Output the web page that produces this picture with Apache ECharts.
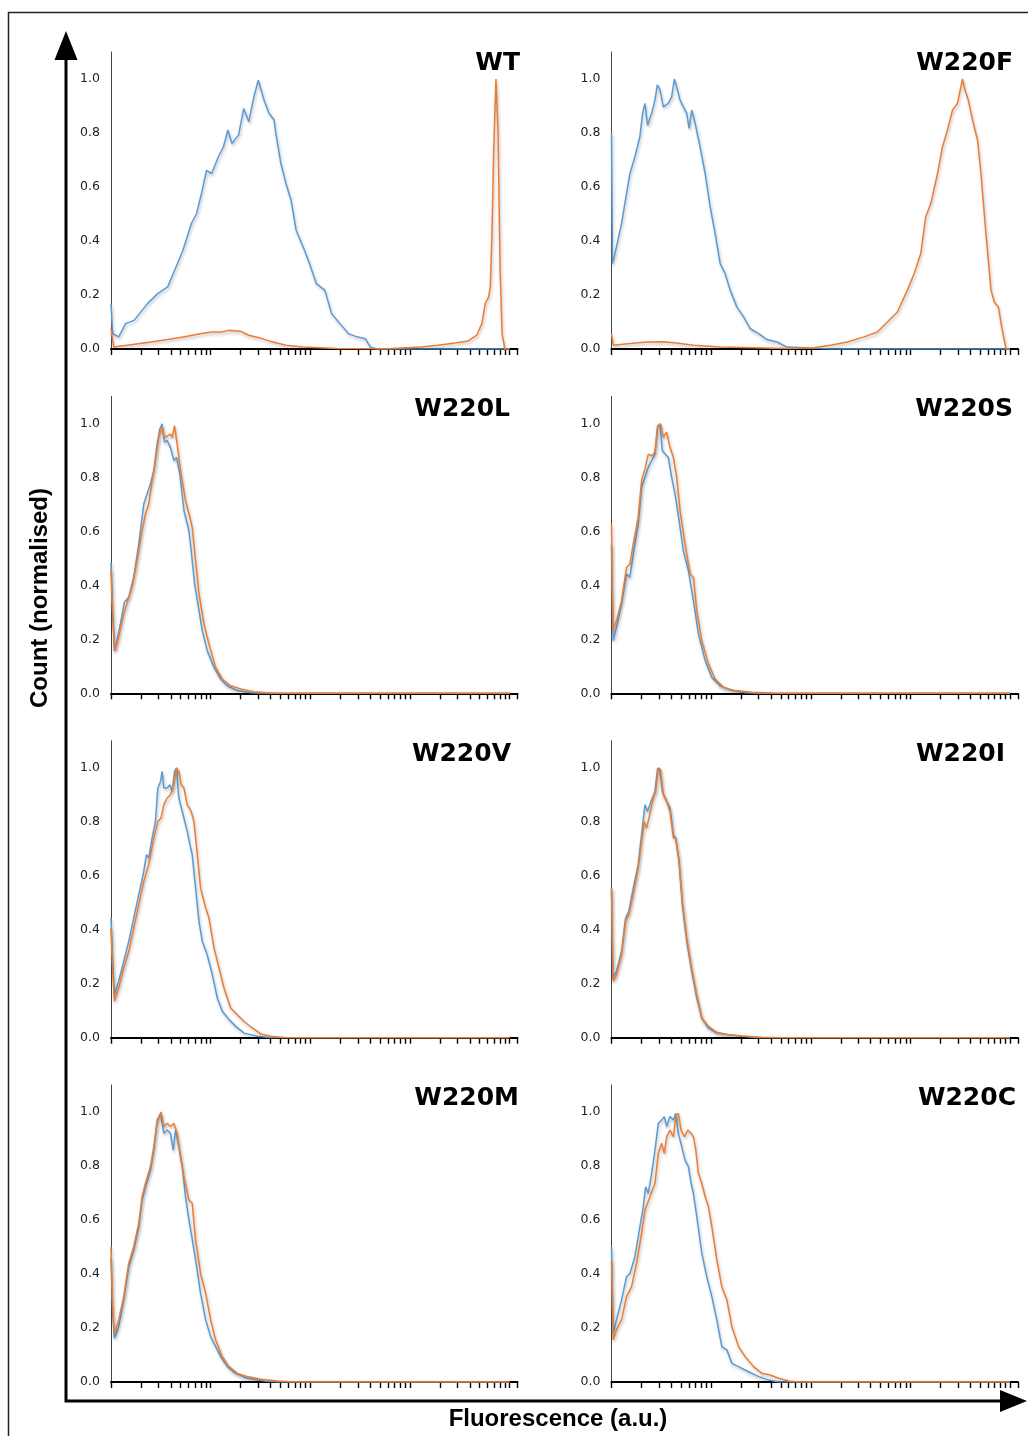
<!DOCTYPE html>
<html><head><meta charset="utf-8">
<script src="https://cdn.jsdelivr.net/npm/echarts@6/dist/echarts.min.js"></script>
<style>html,body{margin:0;padding:0;background:#fff}#c{width:1028px;height:1436px}</style>
</head><body><div id="c"></div>
<script>
// x values are in decades: log10(fluorescence, a.u.)
const panelNames = ['WT','W220F','W220L','W220S','W220V','W220I','W220M','W220C'];
const yTickLabels = ['0.0','0.2','0.4','0.6','0.8','1.0'];

const wtBlue = [[0,0.168],[0.017,0.057],[0.078,0.045],[0.146,0.094],[0.231,0.106],[0.366,0.168],[0.468,0.205],[0.569,0.23],[0.637,0.29],[0.722,0.366],[0.807,0.465],[0.858,0.5],[0.908,0.576],[0.959,0.662],[1.01,0.65],[1.078,0.712],[1.129,0.749],[1.173,0.811],[1.214,0.761],[1.281,0.793],[1.332,0.891],[1.383,0.842],[1.434,0.934],[1.478,0.996],[1.502,0.965],[1.536,0.922],[1.586,0.873],[1.637,0.848],[1.654,0.8],[1.705,0.687],[1.756,0.613],[1.807,0.551],[1.858,0.44],[1.942,0.366],[1.993,0.316],[2.061,0.242],[2.146,0.218],[2.214,0.131],[2.298,0.094],[2.383,0.057],[2.468,0.045],[2.553,0.038],[2.603,0.007],[2.671,0],[4.0,0]];
const wtOrange = [[0,0.075],[0.027,0.007],[0.163,0.014],[0.4,0.026],[0.569,0.035],[0.739,0.045],[0.908,0.057],[1.01,0.063],[1.112,0.063],[1.18,0.069],[1.298,0.066],[1.383,0.051],[1.485,0.042],[1.586,0.03],[1.756,0.014],[1.925,0.007],[2.264,0.002],[2.773,0.001],[3.112,0.007],[3.281,0.014],[3.451,0.022],[3.586,0.03],[3.671,0.051],[3.722,0.094],[3.756,0.168],[3.79,0.193],[3.807,0.23],[3.824,0.428],[3.841,0.737],[3.864,1.0],[3.885,0.8],[3.905,0.304],[3.925,0.057],[3.953,0],[4.0,0]];

const w220fBlue = [[0,0.8],[0.01,0.316],[0.05,0.378],[0.101,0.465],[0.151,0.576],[0.185,0.65],[0.235,0.712],[0.285,0.786],[0.312,0.873],[0.336,0.91],[0.362,0.829],[0.403,0.873],[0.436,0.922],[0.46,0.978],[0.487,0.96],[0.52,0.897],[0.57,0.91],[0.604,0.934],[0.631,1.0],[0.654,0.971],[0.688,0.922],[0.721,0.897],[0.755,0.873],[0.779,0.817],[0.805,0.885],[0.839,0.836],[0.889,0.749],[0.94,0.65],[0.99,0.527],[1.04,0.428],[1.091,0.316],[1.141,0.279],[1.191,0.218],[1.258,0.156],[1.326,0.119],[1.393,0.075],[1.477,0.057],[1.56,0.035],[1.661,0.026],[1.762,0.007],[1.93,0.005],[2.097,0.002],[2.198,0],[4.0,0]];
const w220fOrange = [[0,0.057],[0.017,0.014],[0.185,0.02],[0.352,0.026],[0.52,0.027],[0.654,0.022],[0.822,0.014],[1.091,0.007],[1.426,0.005],[1.762,0.002],[2.03,0.005],[2.198,0.014],[2.366,0.026],[2.534,0.045],[2.668,0.063],[2.768,0.1],[2.869,0.137],[2.97,0.218],[3.037,0.279],[3.104,0.354],[3.154,0.49],[3.205,0.539],[3.272,0.65],[3.322,0.749],[3.372,0.811],[3.423,0.885],[3.473,0.91],[3.5,0.96],[3.523,1.0],[3.547,0.96],[3.581,0.922],[3.624,0.848],[3.648,0.811],[3.674,0.774],[3.708,0.65],[3.758,0.428],[3.809,0.218],[3.842,0.174],[3.883,0.156],[3.916,0.082],[3.96,0],[4.0,0]];

const w220lBlue = [[0,0.485],[0.017,0.306],[0.034,0.158],[0.06,0.195],[0.094,0.257],[0.134,0.337],[0.178,0.356],[0.228,0.43],[0.279,0.553],[0.329,0.701],[0.362,0.738],[0.396,0.775],[0.43,0.825],[0.463,0.923],[0.49,0.979],[0.513,0.998],[0.537,0.93],[0.564,0.936],[0.597,0.911],[0.631,0.862],[0.658,0.874],[0.691,0.812],[0.732,0.677],[0.782,0.602],[0.805,0.528],[0.839,0.405],[0.872,0.331],[0.916,0.232],[0.966,0.158],[1.034,0.096],[1.101,0.053],[1.168,0.028],[1.268,0.01],[1.403,0.002],[1.537,0],[4.0,0]];
const w220lOrange = [[0,0.46],[0.017,0.281],[0.037,0.158],[0.077,0.207],[0.128,0.294],[0.168,0.343],[0.211,0.393],[0.262,0.491],[0.312,0.602],[0.346,0.664],[0.379,0.701],[0.413,0.788],[0.446,0.862],[0.48,0.948],[0.513,0.985],[0.537,0.948],[0.57,0.954],[0.597,0.96],[0.614,0.948],[0.638,0.991],[0.664,0.923],[0.698,0.825],[0.748,0.714],[0.792,0.652],[0.815,0.615],[0.849,0.491],[0.883,0.368],[0.933,0.257],[0.983,0.183],[1.05,0.096],[1.117,0.053],[1.201,0.028],[1.302,0.016],[1.436,0.006],[1.604,0.001],[1.75,0],[4.0,0]];

const w220sBlue = [[0,0.55],[0.017,0.195],[0.05,0.244],[0.101,0.331],[0.151,0.442],[0.185,0.43],[0.218,0.516],[0.268,0.627],[0.302,0.763],[0.336,0.8],[0.369,0.837],[0.403,0.862],[0.436,0.886],[0.463,0.985],[0.487,0.998],[0.51,0.899],[0.537,0.886],[0.57,0.874],[0.604,0.8],[0.638,0.738],[0.678,0.64],[0.721,0.528],[0.772,0.454],[0.822,0.343],[0.872,0.22],[0.94,0.121],[1.007,0.059],[1.091,0.028],[1.208,0.01],[1.342,0.002],[1.477,0],[4.0,0]];
const w220sOrange = [[0,0.627],[0.013,0.232],[0.05,0.269],[0.101,0.343],[0.151,0.467],[0.185,0.479],[0.218,0.553],[0.268,0.652],[0.302,0.788],[0.336,0.831],[0.369,0.886],[0.403,0.88],[0.436,0.893],[0.463,0.991],[0.493,0.998],[0.52,0.948],[0.554,0.967],[0.587,0.911],[0.621,0.874],[0.654,0.8],[0.688,0.677],[0.738,0.553],[0.789,0.442],[0.822,0.43],[0.856,0.306],[0.906,0.195],[0.973,0.109],[1.04,0.053],[1.124,0.022],[1.242,0.01],[1.409,0.004],[1.611,0.001],[1.8,0],[4.0,0]];

const w220vBlue = [[0,0.443],[0.017,0.283],[0.034,0.159],[0.077,0.209],[0.128,0.283],[0.178,0.357],[0.228,0.443],[0.279,0.53],[0.329,0.616],[0.356,0.678],[0.379,0.665],[0.413,0.74],[0.446,0.801],[0.47,0.925],[0.497,0.949],[0.513,0.986],[0.53,0.925],[0.564,0.925],[0.591,0.937],[0.614,0.912],[0.638,0.986],[0.658,0.999],[0.681,0.888],[0.715,0.838],[0.765,0.764],[0.792,0.715],[0.815,0.678],[0.849,0.554],[0.883,0.431],[0.916,0.357],[0.966,0.307],[1.017,0.233],[1.067,0.147],[1.117,0.098],[1.185,0.067],[1.252,0.042],[1.336,0.017],[1.47,0.005],[1.604,0],[4.0,0]];
const w220vOrange = [[0,0.406],[0.017,0.246],[0.034,0.135],[0.077,0.184],[0.128,0.258],[0.178,0.32],[0.228,0.406],[0.279,0.493],[0.329,0.579],[0.379,0.641],[0.43,0.74],[0.47,0.801],[0.503,0.814],[0.53,0.863],[0.564,0.888],[0.597,0.9],[0.631,0.937],[0.658,0.999],[0.681,0.986],[0.705,0.937],[0.732,0.925],[0.765,0.863],[0.805,0.838],[0.832,0.801],[0.866,0.678],[0.899,0.554],[0.95,0.48],[0.983,0.443],[1.034,0.332],[1.084,0.258],[1.134,0.184],[1.201,0.11],[1.268,0.085],[1.336,0.06],[1.419,0.036],[1.503,0.014],[1.604,0.005],[1.738,0.001],[1.9,0],[4.0,0]];

const w220iBlue = [[0,0.554],[0.013,0.221],[0.05,0.246],[0.101,0.32],[0.141,0.443],[0.174,0.468],[0.218,0.554],[0.268,0.641],[0.302,0.752],[0.336,0.863],[0.362,0.838],[0.396,0.875],[0.436,0.912],[0.463,0.999],[0.487,0.986],[0.51,0.912],[0.554,0.875],[0.587,0.851],[0.621,0.752],[0.644,0.74],[0.678,0.653],[0.711,0.493],[0.755,0.357],[0.805,0.246],[0.856,0.147],[0.906,0.073],[0.973,0.036],[1.057,0.017],[1.174,0.011],[1.309,0.005],[1.477,0],[4.0,0]];
const w220iOrange = [[0,0.554],[0.017,0.209],[0.05,0.233],[0.101,0.307],[0.141,0.431],[0.174,0.456],[0.218,0.53],[0.268,0.628],[0.302,0.727],[0.329,0.801],[0.352,0.777],[0.376,0.814],[0.419,0.888],[0.443,0.912],[0.47,0.999],[0.493,0.993],[0.52,0.9],[0.554,0.875],[0.587,0.838],[0.621,0.74],[0.644,0.74],[0.678,0.653],[0.711,0.505],[0.755,0.37],[0.805,0.258],[0.856,0.159],[0.906,0.073],[0.973,0.042],[1.057,0.02],[1.174,0.011],[1.309,0.006],[1.51,0.002],[1.7,0],[4.0,0]];

const w220mBlue = [[0,0.458],[0.017,0.254],[0.034,0.162],[0.077,0.205],[0.128,0.304],[0.178,0.427],[0.228,0.489],[0.279,0.575],[0.312,0.674],[0.346,0.723],[0.396,0.785],[0.43,0.859],[0.463,0.97],[0.497,0.995],[0.53,0.921],[0.564,0.933],[0.597,0.921],[0.624,0.859],[0.648,0.933],[0.681,0.872],[0.715,0.798],[0.748,0.686],[0.782,0.6],[0.805,0.551],[0.849,0.452],[0.899,0.328],[0.95,0.23],[1.0,0.168],[1.05,0.131],[1.101,0.094],[1.168,0.057],[1.252,0.032],[1.37,0.014],[1.537,0.004],[1.671,0],[4.0,0]];
const w220mOrange = [[0,0.501],[0.017,0.279],[0.034,0.18],[0.077,0.23],[0.128,0.316],[0.178,0.44],[0.228,0.501],[0.279,0.588],[0.312,0.686],[0.346,0.736],[0.396,0.798],[0.43,0.872],[0.463,0.958],[0.503,1.0],[0.53,0.946],[0.564,0.958],[0.597,0.946],[0.631,0.958],[0.664,0.921],[0.698,0.835],[0.732,0.76],[0.782,0.674],[0.815,0.662],[0.849,0.526],[0.899,0.402],[0.95,0.328],[1.0,0.23],[1.05,0.156],[1.117,0.094],[1.185,0.057],[1.268,0.032],[1.37,0.02],[1.503,0.01],[1.671,0.004],[1.839,0],[4.0,0]];

const w220cBlue = [[0,0.501],[0.017,0.18],[0.05,0.23],[0.101,0.304],[0.151,0.39],[0.185,0.402],[0.235,0.464],[0.285,0.575],[0.319,0.649],[0.342,0.723],[0.369,0.699],[0.403,0.773],[0.436,0.859],[0.47,0.958],[0.503,0.97],[0.53,0.983],[0.554,0.946],[0.587,0.983],[0.621,0.97],[0.644,0.995],[0.671,0.921],[0.705,0.872],[0.738,0.822],[0.772,0.798],[0.799,0.736],[0.822,0.699],[0.856,0.612],[0.906,0.477],[0.956,0.39],[1.007,0.316],[1.057,0.23],[1.107,0.131],[1.158,0.119],[1.208,0.069],[1.275,0.057],[1.376,0.038],[1.477,0.02],[1.577,0.007],[1.678,0],[4.0,0]];
const w220cOrange = [[0,0.452],[0.017,0.156],[0.05,0.193],[0.101,0.23],[0.151,0.316],[0.201,0.353],[0.252,0.44],[0.302,0.551],[0.336,0.637],[0.386,0.686],[0.436,0.736],[0.47,0.847],[0.503,0.884],[0.53,0.847],[0.554,0.909],[0.587,0.933],[0.621,0.909],[0.644,0.983],[0.671,0.995],[0.698,0.933],[0.732,0.909],[0.765,0.933],[0.799,0.921],[0.822,0.909],[0.846,0.859],[0.872,0.773],[0.906,0.736],[0.94,0.686],[0.973,0.649],[1.007,0.575],[1.057,0.452],[1.107,0.353],[1.158,0.304],[1.208,0.205],[1.275,0.131],[1.342,0.094],[1.426,0.057],[1.51,0.032],[1.594,0.026],[1.678,0.014],[1.779,0.004],[1.879,0],[4.0,0]];

const blueCurves = [wtBlue, w220fBlue, w220lBlue, w220sBlue, w220vBlue, w220iBlue, w220mBlue, w220cBlue];
const orangeCurves = [wtOrange, w220fOrange, w220lOrange, w220sOrange, w220vOrange, w220iOrange, w220mOrange, w220cOrange];

// layout
const colLeft = [111, 611.5];
const gridWidth = 406.5;
const rowTop = [52, 396.3, 740.7, 1085];
const gridHeight = 297;
const xMax = 4.08;
const titleRight = [520, 1013, 510, 1013, 511, 1005, 519, 1016];
const titleY = [63, 63, 409, 409, 754, 754, 1098, 1098];

const xTickPos = [];
for (let n = 0; n < 4; n++) for (let k = 1; k < 10; k++) xTickPos.push(n + Math.log10(k));
xTickPos.push(4, xMax);

const BLUE = '#5B9BD5', ORANGE = '#ED7D31';
const grids = [], xAxes = [], yAxes = [], series = [], graphics = [];

panelNames.forEach((name, i) => {
  const col = i % 2, row = Math.floor(i / 2);
  grids.push({left: colLeft[col], top: rowTop[row], width: gridWidth, height: gridHeight, containLabel: false});
  xAxes.push({
    type: 'value', gridIndex: i, min: 0, max: xMax,
    axisLine: {show: true, onZero: false, lineStyle: {color: '#000', width: 2}},
    axisTick: {show: true, customValues: xTickPos, length: 6, inside: false, lineStyle: {color: '#000', width: 1.4}},
    axisLabel: {show: false}, splitLine: {show: false}
  });
  yAxes.push({
    type: 'value', gridIndex: i, min: 0, max: 1.1, interval: 0.2,
    axisLine: {show: true, lineStyle: {color: '#444', width: 1}},
    axisTick: {show: false}, splitLine: {show: false},
    axisLabel: {
      margin: 11, fontFamily: 'DejaVu Sans', fontSize: 12.5, color: '#222',
      formatter: v => { const j = Math.round(v / 0.2); return (Math.abs(v - j * 0.2) < 1e-6 && j < yTickLabels.length) ? yTickLabels[j] : ''; }
    }
  });
  const ls = c => ({color: c, width: 1.5, shadowColor: 'rgba(0,0,0,0.28)', shadowBlur: 3, shadowOffsetX: 1, shadowOffsetY: 2});
  series.push({type: 'line', name: name + ' blue', xAxisIndex: i, yAxisIndex: i, data: blueCurves[i], showSymbol: false, symbol: 'none', lineStyle: ls(BLUE), color: BLUE, z: 2, silent: true});
  series.push({type: 'line', name: name + ' orange', xAxisIndex: i, yAxisIndex: i, data: orangeCurves[i], showSymbol: false, symbol: 'none', lineStyle: ls(ORANGE), color: ORANGE, z: 3, silent: true});
  graphics.push({type: 'text', x: titleRight[i], y: titleY[i], style: {text: name, align: 'right', verticalAlign: 'middle', fontFamily: 'DejaVu Sans', fontWeight: 'bold', fontSize: 25, fill: '#000'}});
});

// frame, big arrows, axis titles
graphics.push({type: 'rect', shape: {x: 8.5, y: 12.5, width: 1040, height: 1440}, style: {fill: 'none', stroke: '#222', lineWidth: 1.5}});
graphics.push({type: 'polyline', shape: {points: [[66, 60], [66, 1401], [1002, 1401]]}, style: {stroke: '#000', lineWidth: 3, fill: 'none'}});
graphics.push({type: 'polygon', shape: {points: [[66, 31], [54.5, 60], [77.5, 60]]}, style: {fill: '#000'}});
graphics.push({type: 'polygon', shape: {points: [[1027, 1401], [1000, 1390], [1000, 1412]]}, style: {fill: '#000'}});
graphics.push({type: 'text', x: 40, y: 598, rotation: Math.PI / 2, style: {text: 'Count (normalised)', align: 'center', verticalAlign: 'middle', fontFamily: 'Liberation Sans', fontWeight: 'bold', fontSize: 24, fill: '#000'}});
graphics.push({type: 'text', x: 558, y: 1419, style: {text: 'Fluorescence (a.u.)', align: 'center', verticalAlign: 'middle', fontFamily: 'Liberation Sans', fontWeight: 'bold', fontSize: 24, fill: '#000'}});

const chart = echarts.init(document.getElementById('c'), null, {renderer: 'canvas'});
chart.setOption({
  animation: false,
  backgroundColor: '#fff',
  grid: grids, xAxis: xAxes, yAxis: yAxes, series: series,
  graphic: graphics
});
</script></body></html>
